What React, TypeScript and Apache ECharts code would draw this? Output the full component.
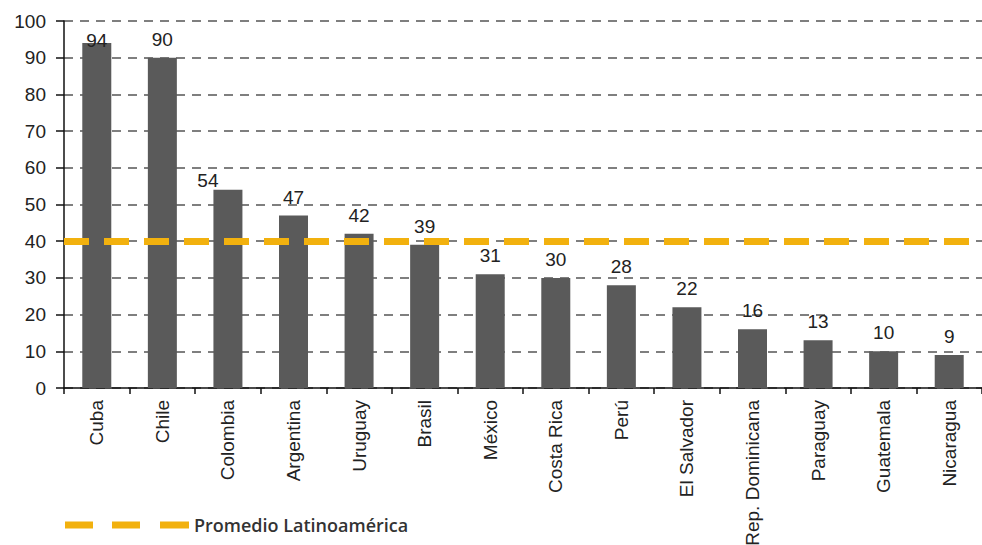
import React, { useEffect, useRef } from "react";
import * as echarts from "echarts";

const categories = [
  "Cuba", "Chile", "Colombia", "Argentina", "Uruguay", "Brasil", "México",
  "Costa Rica", "Perú", "El Salvador", "Rep. Dominicana", "Paraguay", "Guatemala", "Nicaragua",
];
const values = [94, 90, 54, 47, 42, 39, 31, 30, 28, 22, 16, 13, 10, 9];
const averageValue = 40;
const averageName = "Promedio Latinoamérica";
const yTicks = { min: 0, max: 100, interval: 10 };

const FONT = "'Liberation Sans', Arial, Helvetica, sans-serif";

export default function App() {
  const ref = useRef<HTMLDivElement>(null);
  useEffect(() => {
    if (!ref.current) return;
    const chart = echarts.init(ref.current, null, { renderer: "svg" });
    const barData = values.map((v, i) => {
      if (i === 0) return { value: v, label: { distance: -7 } };
      if (i === 2) return { value: v, label: { distance: 0, offset: [-20, 0] } };
      return v;
    });
    chart.setOption({
      animation: false,
      backgroundColor: "#ffffff",
      grid: {
        left: 64,
        right: 0,
        top: 21,
        bottom: 157,
        containLabel: false,
        outerBoundsMode: "none",
      },
      legend: {
        show: true,
        left: 60,
        top: 511,
        itemWidth: 124,
        itemHeight: 7,
        itemGap: 11,
        data: [
          {
            name: averageName,
            icon: "path://M0,0h28v7h-28z M47,0h28v7h-28z M95,0h29v7h-29z",
            itemStyle: { color: "#F2B10E" },
          },
        ],
        textStyle: { fontFamily: "'Open Sans', sans-serif", fontSize: 18, fontWeight: 600, color: "#333333" },
      },
      xAxis: {
        type: "category",
        data: categories,
        axisLine: { show: true, lineStyle: { color: "#111111", width: 1.5 } },
        axisTick: { show: true, length: 6, lineStyle: { color: "#111111", width: 1.5 } },
        axisLabel: {
          rotate: 90,
          interval: 0,
          margin: 12,
          fontFamily: FONT,
          fontSize: 19,
          color: "#222222",
        },
      },
      yAxis: {
        type: "value",
        min: yTicks.min,
        max: yTicks.max,
        interval: yTicks.interval,
        axisLine: { show: true, lineStyle: { color: "#111111", width: 1.5 } },
        axisTick: { show: true, length: 8, lineStyle: { color: "#111111", width: 1.5 } },
        axisLabel: {
          margin: 18,
          fontFamily: FONT,
          fontSize: 19,
          color: "#222222",
        },
        splitLine: {
          show: true,
          lineStyle: { color: "#555555", width: 1.5, type: [9, 7] },
        },
      },
      series: [
        {
          type: "bar",
          data: barData,
          barWidth: 29,
          itemStyle: { color: "#5a5a5a" },
          label: {
            show: true,
            position: "top",
            distance: 9,
            fontFamily: FONT,
            fontSize: 19,
            color: "#222222",
          },
          z: 2,
        },
        {
          type: "line",
          name: averageName,
          data: [],
          symbol: "none",
          color: "#F2B10E",
          lineStyle: { color: "#F2B10E", width: 6, type: [28, 19] },
          markLine: {
            silent: true,
            symbol: ["none", "none"],
            label: { show: false },
            lineStyle: { color: "#F2B10E", width: 7, type: [25, 15] },
            data: [{ yAxis: averageValue }],
          },
          z: 5,
        },
      ],
    });
    return () => chart.dispose();
  }, []);
  return (
    <div
      ref={ref}
      style={{ position: "absolute", left: 0, top: 0, width: 982, height: 545 }}
    />
  );
}
